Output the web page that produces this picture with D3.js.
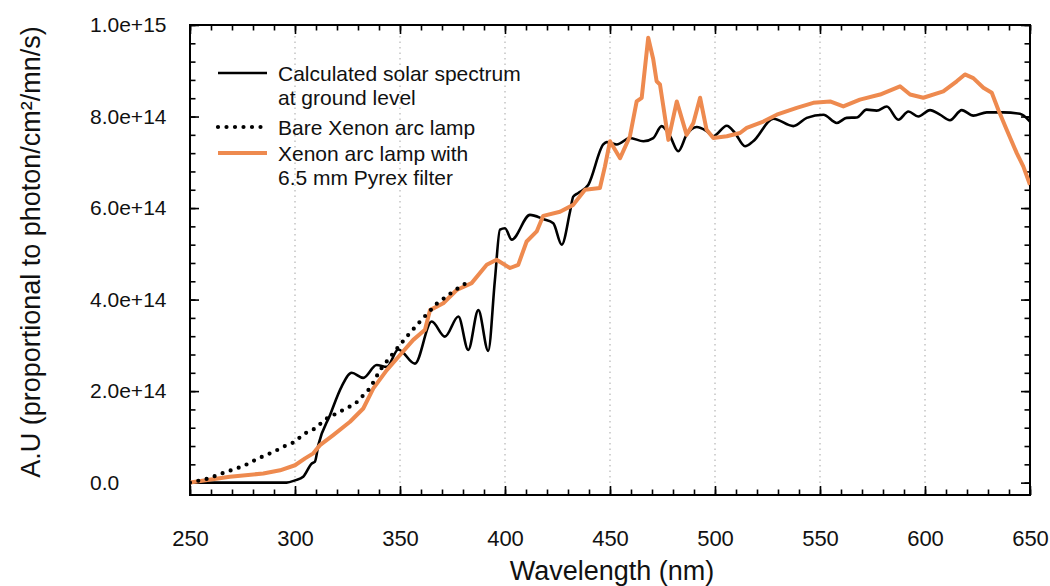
<!DOCTYPE html>
<html>
<head>
<meta charset="utf-8">
<script src="https://cdn.jsdelivr.net/npm/d3@7"></script>
<style>
  html, body { margin: 0; padding: 0; background: #fff; }
  svg { display: block; font-family: "Liberation Sans", Arial, sans-serif; }
</style>
</head>
<body>
<svg id="chart" width="1050" height="586"></svg>
<script>
// values are in units of 1e14 photon/cm2/nm/s
const UNIT = 1e14;

// calculated solar spectrum at ground level
const solarNm = [250, 296, 300, 303.9, 308, 309.5, 311.1, 316.7, 322.2, 327, 332.5, 338.9, 343.7, 349.2,
  357.1, 365.1, 371.4, 377.8, 382.5, 387.3, 392, 395.2, 397.6, 400, 403.2, 411.9, 418.2, 423, 427, 431,
  432.5, 434.9, 439.7, 446.8, 448.4, 453.2, 459.5, 465.9, 470.6, 474.6, 478.6, 482.5, 486.5, 491.3, 496,
  499.2, 505.6, 509.5, 514.3, 518.2, 527.8, 537.3, 543.7, 551.6, 558, 562.7, 567.5, 572.2, 577, 581.8,
  587.3, 592.1, 596.8, 602.4, 607.1, 611.9, 617.5, 623, 629.4, 637.3, 645.2, 650];
const solarVal = [0, 0, 0.05, 0.13, 0.42, 0.46, 0.82, 1.48, 2.10, 2.40, 2.29, 2.57, 2.53, 2.91,
  2.60, 3.52, 3.19, 3.63, 2.90, 3.77, 2.88, 4.43, 5.53, 5.56, 5.31, 5.85, 5.76, 5.67, 5.20, 5.93,
  6.25, 6.33, 6.51, 7.39, 7.44, 7.39, 7.53, 7.46, 7.53, 7.79, 7.57, 7.24, 7.60, 7.77, 7.68,
  7.57, 7.80, 7.64, 7.35, 7.46, 7.95, 7.79, 7.97, 8.04, 7.86, 7.97, 7.98, 8.15, 8.13, 8.22,
  7.93, 8.11, 8.00, 8.14, 8.04, 7.92, 8.14, 8.02, 8.09, 8.09, 8.06, 7.89];

// bare xenon arc lamp
const bareNm = [250, 258.7, 267.5, 275.4, 282.5, 289.7, 296, 300, 304, 308.7, 315.1, 323, 328.6,
  335.7, 340.5, 346.8, 353.2, 360.3, 367.5, 375.4, 382.5];
const bareVal = [0, 0.09, 0.24, 0.36, 0.53, 0.67, 0.82, 0.89, 1.06, 1.16, 1.40, 1.59, 1.72,
  2.06, 2.46, 2.83, 3.19, 3.56, 3.91, 4.18, 4.39];

// xenon arc lamp with 6.5 mm Pyrex filter
const pyrexNm = [250, 269, 284.9, 292.9, 300, 304.8, 308.7, 311.9, 318.2, 326.2, 332.5, 337.3, 343.7,
  350, 356.3, 361.9, 364.3, 370.6, 377, 384.1, 391.3, 396, 402.4, 406.3, 410.3, 415.1, 418.2, 426.2,
  432.5, 438.1, 445.2, 447.6, 450, 454.8, 459.5, 462.7, 465.1, 468.2, 470.6, 472.2, 473.8, 475.4,
  477.8, 481.8, 486.5, 489.7, 492.9, 496, 499.2, 505.6, 511.9, 515.1, 523, 529.4, 538.9, 546.8,
  554.8, 561.1, 569, 578.6, 588.1, 592.9, 599.2, 608.7, 615.1, 619, 623, 627.8, 631.8, 634.9,
  638.9, 643.7, 646.8, 650];
const pyrexVal = [0, 0.13, 0.20, 0.27, 0.38, 0.53, 0.64, 0.82, 1.04, 1.33, 1.62, 2.06, 2.46,
  2.79, 3.12, 3.34, 3.77, 3.92, 4.21, 4.36, 4.76, 4.87, 4.69, 4.76, 5.27, 5.49, 5.83, 5.92,
  6.07, 6.40, 6.44, 6.91, 7.46, 7.09, 7.57, 8.33, 8.41, 9.72, 9.25, 8.77, 8.70, 8.22,
  7.49, 8.33, 7.60, 7.86, 8.41, 7.71, 7.53, 7.57, 7.64, 7.75, 7.89, 8.04, 8.19, 8.30,
  8.33, 8.22, 8.37, 8.48, 8.66, 8.48, 8.41, 8.55, 8.77, 8.92, 8.84, 8.63, 8.52, 8.15,
  7.71, 7.20, 6.91, 6.51];

const xMajor = [250, 300, 350, 400, 450, 500, 550, 600, 650];
const xGrid = [300, 350, 400, 450, 500, 550, 600];
const yMajor = [0, 2e14, 4e14, 6e14, 8e14, 1e15];

const legendItems = [
  { lines: ["Calculated solar spectrum", "at ground level"], kind: "solar" },
  { lines: ["Bare Xenon arc lamp"], kind: "bare" },
  { lines: ["Xenon arc lamp with", "6.5 mm Pyrex filter"], kind: "pyrex" }
];

const ORANGE = "#ee8a4f";

const svg = d3.select("#chart");
const W = 1050, H = 586;
const margin = { left: 190, right: 20, top: 25, bottom: 91 };

const x = d3.scaleLinear().domain([250, 650]).range([margin.left, W - margin.right]);
const y = d3.scaleLinear().domain([-0.27e14, 1e15]).range([H - margin.bottom, margin.top]);

const xMinor = d3.range(250, 651, 10);
const yMinor = d3.range(0, 1e15 + 1, 4e13);

// dotted vertical grid
svg.append("g")
  .selectAll("line")
  .data(xGrid)
  .join("line")
  .attr("x1", d => x(d)).attr("x2", d => x(d))
  .attr("y1", margin.top).attr("y2", H - margin.bottom)
  .attr("stroke", "#b5b5b5")
  .attr("stroke-width", 1.2)
  .attr("stroke-dasharray", "1.5,4");

// ticks on all four sides, pointing inward
function styleAxis(g) {
  g.select(".domain").remove();
  g.selectAll(".tick line").attr("stroke", "#000").attr("stroke-width", 1.6);
}
const bottomY = H - margin.bottom, rightX = W - margin.right;

svg.append("g").attr("transform", `translate(0,${bottomY})`)
  .call(d3.axisBottom(x).tickValues(xMinor).tickSize(-5.5).tickFormat(""))
  .call(styleAxis);
svg.append("g").attr("transform", `translate(0,${margin.top})`)
  .call(d3.axisTop(x).tickValues(xMinor).tickSize(-5.5).tickFormat(""))
  .call(styleAxis);
svg.append("g").attr("transform", `translate(${margin.left},0)`)
  .call(d3.axisLeft(y).tickValues(yMinor).tickSize(-5.5).tickFormat(""))
  .call(styleAxis);
svg.append("g").attr("transform", `translate(${rightX},0)`)
  .call(d3.axisRight(y).tickValues(yMinor).tickSize(-5.5).tickFormat(""))
  .call(styleAxis);

const xAxis = svg.append("g").attr("transform", `translate(0,${bottomY})`)
  .call(d3.axisBottom(x).tickValues(xMajor).tickSize(-9).tickPadding(35).tickFormat(d3.format("d")))
  .call(styleAxis);
xAxis.selectAll("text").attr("font-size", 22).attr("fill", "#111")
  .attr("font-family", "Liberation Sans, Arial, sans-serif");
svg.append("g").attr("transform", `translate(0,${margin.top})`)
  .call(d3.axisTop(x).tickValues(xMajor).tickSize(-9).tickFormat(""))
  .call(styleAxis);

const yFmt = d => d === 0 ? "0.0" : d3.format(".1e")(d);
const yAxis = svg.append("g").attr("transform", `translate(${margin.left},0)`)
  .call(d3.axisLeft(y).tickValues(yMajor).tickSize(-9).tickFormat(yFmt))
  .call(styleAxis);
yAxis.selectAll("text")
  .attr("text-anchor", "start")
  .attr("x", 90 - margin.left)
  .attr("font-size", 21).attr("fill", "#111")
  .attr("font-family", "Liberation Sans, Arial, sans-serif");
svg.append("g").attr("transform", `translate(${rightX},0)`)
  .call(d3.axisRight(y).tickValues(yMajor).tickSize(-9).tickFormat(""))
  .call(styleAxis);

// plot frame
svg.append("rect")
  .attr("x", margin.left).attr("y", margin.top)
  .attr("width", rightX - margin.left).attr("height", bottomY - margin.top)
  .attr("fill", "none").attr("stroke", "#000").attr("stroke-width", 2);

// curves
svg.append("clipPath").attr("id", "plotClip")
  .append("rect")
  .attr("x", margin.left).attr("y", margin.top)
  .attr("width", rightX - margin.left).attr("height", bottomY - margin.top);

const plot = svg.append("g").attr("clip-path", "url(#plotClip)");

const toPoints = (nm, val) => nm.map((d, i) => [d, val[i] * UNIT]);

const smoothLine = d3.line().x(d => x(d[0])).y(d => y(d[1])).curve(d3.curveMonotoneX);
const rawLine = d3.line().x(d => x(d[0])).y(d => y(d[1]));

plot.append("path")
  .datum(toPoints(solarNm, solarVal))
  .attr("d", smoothLine)
  .attr("fill", "none").attr("stroke", "#000").attr("stroke-width", 2.6)
  .attr("stroke-linejoin", "round");

plot.append("path")
  .datum(toPoints(pyrexNm, pyrexVal))
  .attr("d", rawLine)
  .attr("fill", "none").attr("stroke", ORANGE).attr("stroke-width", 4)
  .attr("stroke-linejoin", "round");

plot.append("path")
  .datum(toPoints(bareNm, bareVal))
  .attr("d", rawLine)
  .attr("fill", "none").attr("stroke", "#000").attr("stroke-width", 4.2)
  .attr("stroke-linecap", "round")
  .attr("stroke-dasharray", "0,8.5");

// legend
const legend = svg.append("g").attr("font-size", 21).attr("fill", "#111");
const legendRows = [81, 135, 161];
legendItems.forEach((item, i) => {
  const base = legendRows[i];
  const ly = base - 8;
  const sample = legend.append("line")
    .attr("x1", 218).attr("x2", 267).attr("y1", ly).attr("y2", ly)
    .attr("fill", "none");
  if (item.kind === "solar") sample.attr("stroke", "#000").attr("stroke-width", 2.6);
  if (item.kind === "bare") sample.attr("stroke", "#000").attr("stroke-width", 4.2)
    .attr("stroke-linecap", "round").attr("stroke-dasharray", "0,8.5");
  if (item.kind === "pyrex") sample.attr("stroke", ORANGE).attr("stroke-width", 4);
  item.lines.forEach((t, j) => {
    legend.append("text").attr("x", 278).attr("y", base + j * 24).text(t);
  });
});

// axis titles
svg.append("text")
  .attr("x", (margin.left + rightX) / 2 + 2).attr("y", 580)
  .attr("text-anchor", "middle").attr("font-size", 27).attr("fill", "#111")
  .text("Wavelength (nm)");

svg.append("text")
  .attr("transform", `translate(40,252) rotate(-90)`)
  .attr("text-anchor", "middle").attr("font-size", 27).attr("fill", "#111")
  .text("A.U (proportional to photon/cm²/mn/s)");
</script>
</body>
</html>
